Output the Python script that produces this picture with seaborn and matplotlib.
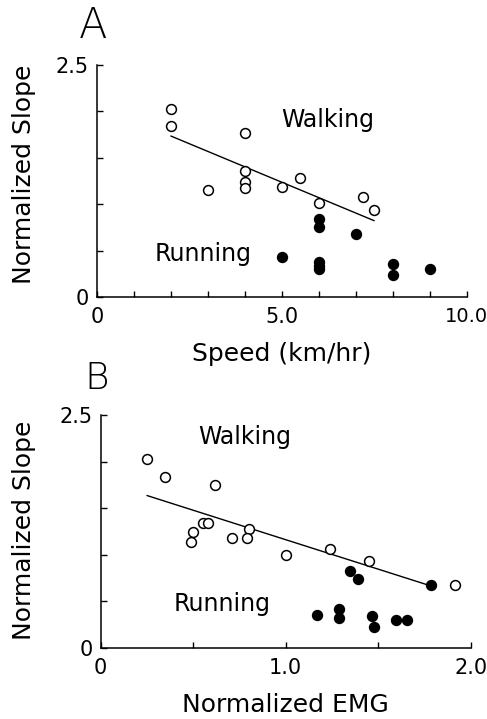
import numpy as np
import pandas as pd
import matplotlib
matplotlib.use("Agg")
import matplotlib.pyplot as plt
import seaborn as sns

sns.set_theme(style="white")
plt.rcParams['font.family'] = ['DejaVu Sans']
plt.rcParams['text.color'] = 'black'
plt.rcParams['axes.labelcolor'] = 'black'
plt.rcParams['xtick.color'] = 'black'
plt.rcParams['ytick.color'] = 'black'

# ---------------- Panel A data (speed) ----------------
a_walk_x = [2.0, 2.0, 4.0, 3.0, 4.0, 4.0, 4.0, 5.0, 5.5, 6.0, 7.2, 7.5]
a_walk_y = [2.03, 1.84, 1.77, 1.15, 1.36, 1.245, 1.18, 1.19, 1.28, 1.01, 1.08, 0.94]
a_run_x = [6.0, 6.0, 7.0, 5.0, 6.0, 6.0, 6.0, 8.0, 8.0, 9.0]
a_run_y = [0.84, 0.76, 0.685, 0.43, 0.38, 0.34, 0.30, 0.36, 0.24, 0.31]
a_fit_x = [2.0, 7.5]
a_fit_y = [1.736, 0.825]

# ---------------- Panel B data (EMG) ----------------
b_walk_x = [0.25, 0.35, 0.62, 0.50, 0.49, 0.555, 0.58, 0.71, 0.80, 0.79, 1.0, 1.24, 1.45, 1.915]
b_walk_y = [2.025, 1.83, 1.75, 1.24, 1.136, 1.34, 1.346, 1.18, 1.275, 1.18, 1.0, 1.06, 0.93, 0.68]
b_run_x = [1.35, 1.39, 1.784, 1.169, 1.29, 1.29, 1.467, 1.477, 1.595, 1.658]
b_run_y = [0.825, 0.74, 0.675, 0.357, 0.418, 0.32, 0.34, 0.22, 0.296, 0.296]
b_fit_x = [0.25, 1.77]
b_fit_y = [1.636, 0.675]

# ---------------- ticks / labels ----------------
a_xticks = [0, 1, 2, 3, 4, 5, 6, 7, 8, 9, 10]
a_xticklabels = ["0", "", "", "", "", "5.0", "", "", "", "", "10.0"]
b_xticks = [0, 0.5, 1.0, 1.5, 2.0]
b_xticklabels = ["0", "", "1.0", "", "2.0"]
yticks = [0, 0.5, 1.0, 1.5, 2.0, 2.5]
yticklabels = ["0", "", "", "", "", "2.5"]

fig = plt.figure(figsize=(4.87, 7.19), dpi=100)
axA = fig.add_axes([0.199, 0.5864, 0.759, 0.3232])
axB = fig.add_axes([0.2068, 0.0988, 0.7598, 0.3240])

def draw(ax, wx, wy, rx, ry, fx, fy, xt, xtl, xmax):
    sns.lineplot(x=fx, y=fy, ax=ax, color='black', linewidth=1.0)
    sns.scatterplot(x=wx, y=wy, ax=ax, s=50, facecolor='white',
                    edgecolor='black', linewidth=1.1, zorder=3)
    sns.scatterplot(x=rx, y=ry, ax=ax, s=50, color='black',
                    edgecolor='black', linewidth=1.1, zorder=3)
    ax.set_xlim(0, xmax)
    ax.set_ylim(0, 2.5)
    ax.set_xticks(xt)
    ax.set_xticklabels(xtl)
    ax.set_yticks(yticks)
    ax.set_yticklabels(yticklabels)
    for s in ['top', 'right']:
        ax.spines[s].set_visible(False)
    for s in ['left', 'bottom']:
        ax.spines[s].set_linewidth(1.1)
        ax.spines[s].set_color('black')
    ax.tick_params(direction='in', length=4, width=1.0, colors='black',
                   labelsize=15, left=True, bottom=True)
    ax.tick_params(axis='x', pad=7)
    ax.tick_params(axis='y', pad=6)
    ax.set_facecolor('white')

draw(axA, a_walk_x, a_walk_y, a_run_x, a_run_y, a_fit_x, a_fit_y,
     a_xticks, a_xticklabels, 10)
draw(axB, b_walk_x, b_walk_y, b_run_x, b_run_y, b_fit_x, b_fit_y,
     b_xticks, b_xticklabels, 2.0)

# keep the right-most tick label of panel A inside the figure
lastA = axA.get_xticklabels()[-1]
lastA.set_fontsize(14)

LBL = 18
axA.set_xlabel("Speed (km/hr)", fontsize=LBL, color='black')
axA.xaxis.set_label_coords(0.5, -0.19)
axA.set_ylabel("Normalized Slope", fontsize=LBL, color='black')
axA.yaxis.set_label_coords(-0.165, 0.531)
axA.text(6.25, 1.91, "Walking", fontsize=17, ha='center', va='center', color='black')
axA.text(2.87, 0.467, "Running", fontsize=17, ha='center', va='center', color='black')

axB.set_xlabel("Normalized EMG", fontsize=LBL, color='black')
axB.xaxis.set_label_coords(0.5, -0.195)
axB.set_ylabel("Normalized Slope", fontsize=LBL, color='black')
axB.yaxis.set_label_coords(-0.175, 0.506)
axB.text(0.78, 2.26, "Walking", fontsize=17, ha='center', va='center', color='black')
axB.text(0.658, 0.47, "Running", fontsize=17, ha='center', va='center', color='black')

fig.text(0.191, 0.965, "A", fontsize=30, ha='center', va='center', fontweight='light', color='black')
fig.text(0.199, 0.473, "B", fontsize=27, ha='center', va='center', fontweight='light', color='black')

fig.savefig("out.png", dpi=100, facecolor='white')
